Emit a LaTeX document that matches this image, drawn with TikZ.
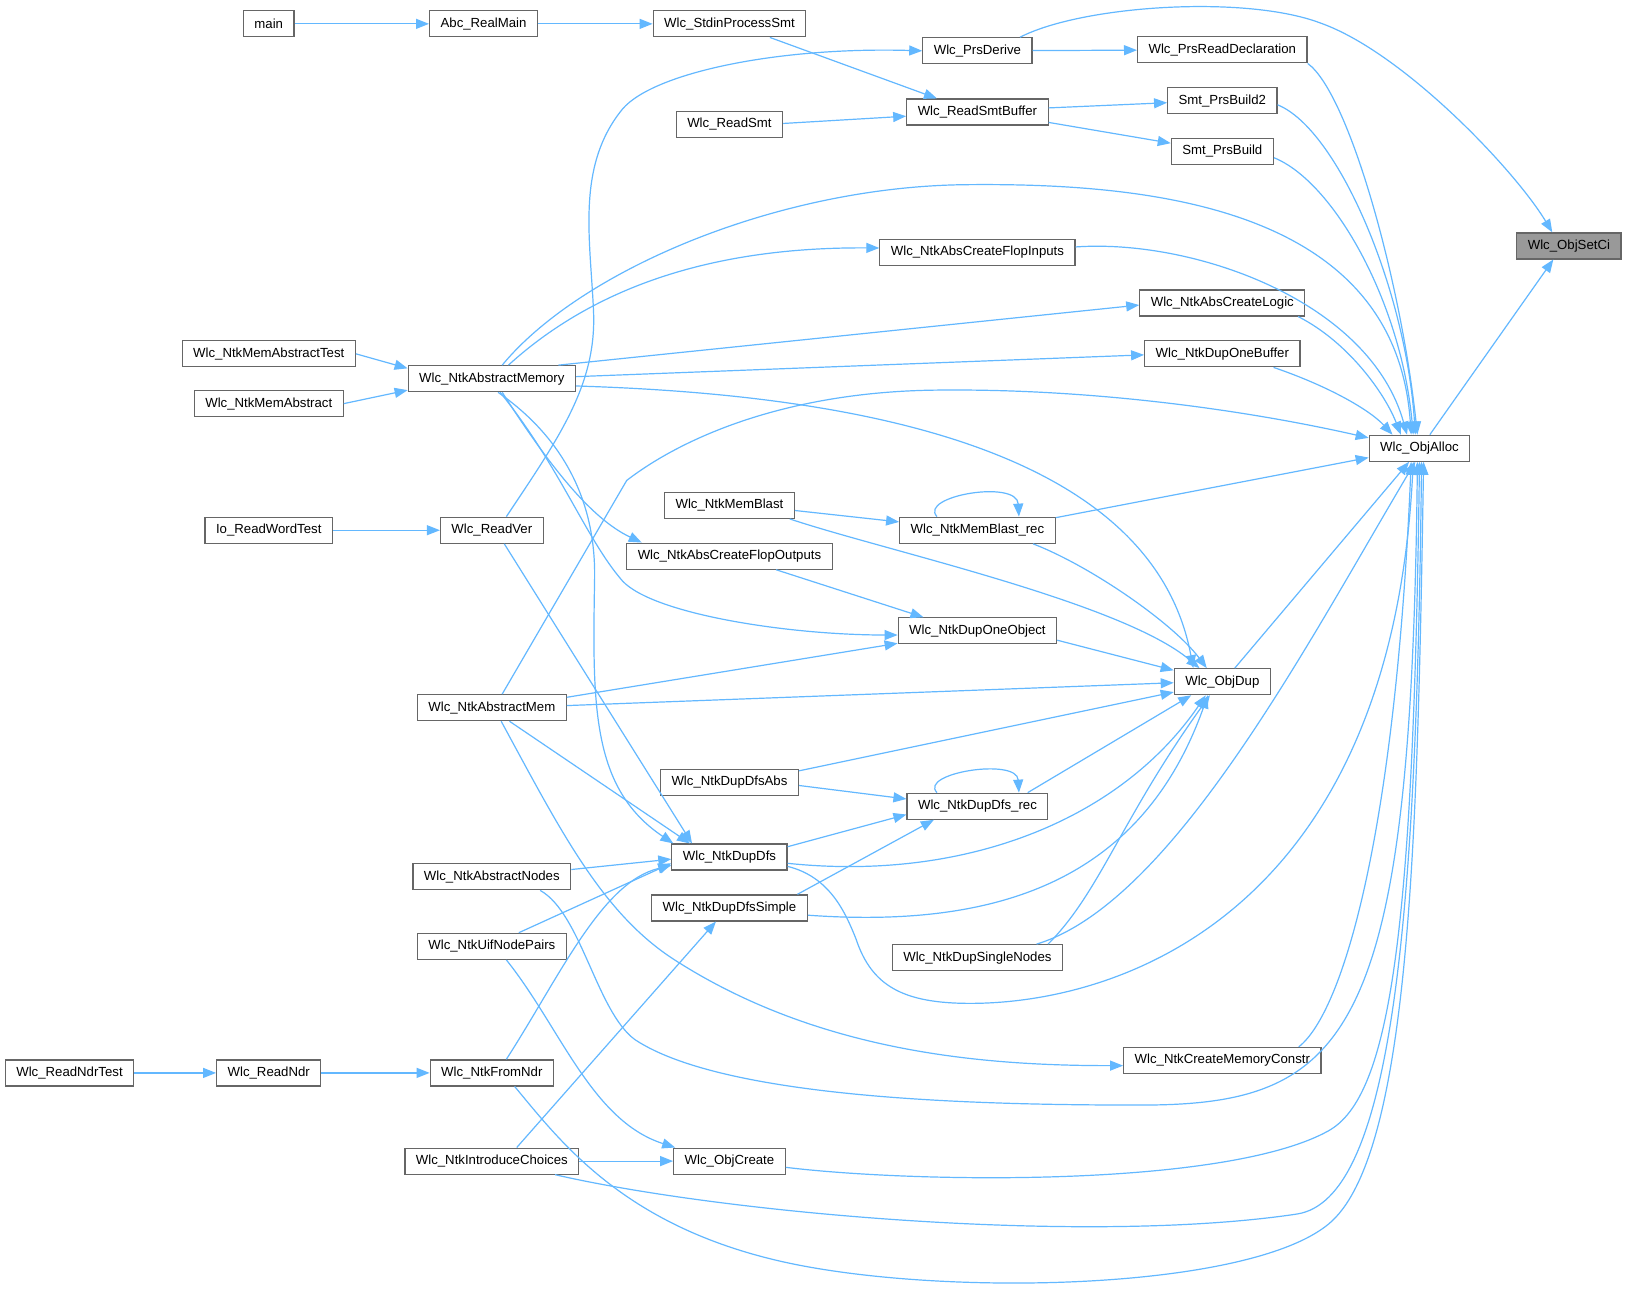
\documentclass[tikz,border=0pt]{standalone}
\usepackage{fontspec}
\setmainfont{Liberation Sans}
\usetikzlibrary{arrows.meta,calc}
\definecolor{edgeblue}{HTML}{63B8FF}
\definecolor{boxgray}{HTML}{666666}
\definecolor{focusgray}{HTML}{999999}

\begin{document}
\begin{tikzpicture}[x=0.5188pt, y=-0.5188pt, >={Triangle[length=6.5pt,width=5pt]},
    fn/.style={draw=boxgray, line width=0.6pt, fill=white, rectangle, minimum height=13pt, inner xsep=5.5pt, inner ysep=0pt, font=\fontsize{6.6}{8}\selectfont},
    focus/.style={fn, fill=focusgray},
    call/.style={->, draw=edgeblue, line width=0.6pt}]
    \fill[white] (0,0) rectangle (1568,1244);
    \useasboundingbox (0,0) rectangle (1568,1244);

    % callers, column by column
    \node[fn] (readndrtest) at (67,1034) {Wlc\_ReadNdrTest};
    \node[fn] (main) at (259,23) {main};
    \node[fn] (memabstest) at (259,341) {Wlc\_NtkMemAbstractTest};
    \node[fn] (memabs) at (259,389) {Wlc\_NtkMemAbstract};
    \node[fn] (readwordtest) at (259,511) {Io\_ReadWordTest};
    \node[fn] (readndr) at (259,1034) {Wlc\_ReadNdr};
    \node[fn] (realmain) at (466,23) {Abc\_RealMain};
    \node[fn] (absmemory) at (474,365) {Wlc\_NtkAbstractMemory};
    \node[fn] (readver) at (474,511) {Wlc\_ReadVer};
    \node[fn] (absmem) at (474,682) {Wlc\_NtkAbstractMem};
    \node[fn] (absnodes) at (474,845) {Wlc\_NtkAbstractNodes};
    \node[fn] (uifpairs) at (474,912) {Wlc\_NtkUifNodePairs};
    \node[fn] (fromndr) at (474,1034) {Wlc\_NtkFromNdr};
    \node[fn] (introchoices) at (474,1119) {Wlc\_NtkIntroduceChoices};
    \node[fn] (stdin) at (703,23) {Wlc\_StdinProcessSmt};
    \node[fn] (readsmt) at (703,120) {Wlc\_ReadSmt};
    \node[fn] (memblast) at (703,487) {Wlc\_NtkMemBlast};
    \node[fn] (flopout) at (703,536) {Wlc\_NtkAbsCreateFlopOutputs};
    \node[fn] (dupdfsabs) at (703,754) {Wlc\_NtkDupDfsAbs};
    \node[fn] (dupdfs) at (703,826) {Wlc\_NtkDupDfs};
    \node[fn] (dupdfssimple) at (703,875) {Wlc\_NtkDupDfsSimple};
    \node[fn] (objcreate) at (703,1119) {Wlc\_ObjCreate};
    \node[fn] (prsderive) at (942,49) {Wlc\_PrsDerive};
    \node[fn] (smtbuf) at (942,108) {Wlc\_ReadSmtBuffer};
    \node[fn] (flopin) at (942,243) {Wlc\_NtkAbsCreateFlopInputs};
    \node[fn] (memblastrec) at (942,511) {Wlc\_NtkMemBlast\_rec};
    \node[fn] (duponeobj) at (942,608) {Wlc\_NtkDupOneObject};
    \node[fn] (dupdfsrec) at (942,777) {Wlc\_NtkDupDfs\_rec};
    \node[fn] (singlenodes) at (942,923) {Wlc\_NtkDupSingleNodes};
    \node[fn] (prsreaddecl) at (1178,48) {Wlc\_PrsReadDeclaration};
    \node[fn] (prsbuild2) at (1178,97) {Smt\_PrsBuild2};
    \node[fn] (prsbuild) at (1178,146) {Smt\_PrsBuild};
    \node[fn] (abslogic) at (1178,292) {Wlc\_NtkAbsCreateLogic};
    \node[fn] (dupbuf) at (1178,341) {Wlc\_NtkDupOneBuffer};
    \node[fn] (dup) at (1178,657) {Wlc\_ObjDup};
    \node[fn] (memconstr) at (1178,1022) {Wlc\_NtkCreateMemoryConstr};
    \node[fn] (alloc) at (1368,432) {Wlc\_ObjAlloc};
    \node[focus] (setci) at (1512,237) {Wlc\_ObjSetCi};

    % top rows
    \draw[call] (main) -- (realmain);
    \draw[call] (realmain) -- (stdin);
    \draw[call] ($(stdin.south)+(39,0)$) -- ($(smtbuf.north)+(-39,0)$);
    \draw[call] ($(readsmt.east)+(0,-1)$) -- ($(smtbuf.west)+(0,4)$);
    \draw[call] ($(smtbuf.east)+(0,-4)$) -- ($(prsbuild2.west)+(0,2)$);
    \draw[call] ($(smtbuf.east)+(0,10)$) -- ($(prsbuild.west)+(0,-8)$);
    \draw[call] (prsderive) -- (prsreaddecl);
    \draw[call] ($(readver.north)+(14,0)$) .. controls (540,420) and (575,370) .. (572,300)
        .. controls (569,230) and (555,160) .. (600,105) .. controls (630,70) and (750,45) .. (prsderive.west);
    \draw[call] ($(prsderive.north)+(41,0)$) .. controls (1043,5) and (1200,-5) .. (1272,22)
        .. controls (1352,50) and (1460,164) .. ($(setci.north)+(-16,0)$);
    \draw[call] ($(alloc.north)+(10,0)$) -- ($(setci.south)+(-15,0)$);

    % into Wlc_ObjAlloc from above
    \draw[call] (prsreaddecl.south east) .. controls (1300,90) and (1350,270) .. ($(alloc.north)+(-2,0)$);
    \draw[call] ($(prsbuild2.east)+(0,4)$) .. controls (1290,125) and (1355,280) .. ($(alloc.north)+(-4,0)$);
    \draw[call] ($(prsbuild.east)+(0,6)$) .. controls (1285,175) and (1350,290) .. ($(alloc.north)+(-6,0)$);
    \draw[call] ($(flopin.east)+(0,-5)$) .. controls (1150,230) and (1320,290) .. ($(alloc.north)+(-12,0)$);
    \draw[call] ($(abslogic.south east)+(-7,0)$) .. controls (1300,330) and (1335,380) .. ($(alloc.north)+(-18,0)$);
    \draw[call] ($(dupbuf.south east)+(-26,0)$) .. controls (1280,372) and (1320,395) .. ($(alloc.north)+(-26,0)$);
    \draw[call] ($(absmemory.north)+(10,0)$) .. controls (560,260) and (750,180) .. (930,178)
        .. controls (1110,176) and (1345,200) .. ($(alloc.north)+(-8,0)$);
    \draw[call] ($(absmem.north)+(10,0)$) -- (604,463) .. controls (660,420) and (760,378) .. (900,376)
        .. controls (1050,374) and (1200,395) .. ($(alloc.west)+(0,-10)$);
    \draw[call] ($(memblastrec.north east)+(0,1)$) -- ($(alloc.west)+(0,9)$);

    % Wlc_NtkAbstractMemory
    \draw[call] (memabstest.east) -- ($(absmemory.west)+(0,-10)$);
    \draw[call] (memabs.east) -- ($(absmemory.west)+(0,11)$);
    \draw[call] ($(absmemory.north)+(16,0)$) .. controls (580,270) and (700,238) .. ($(flopin.west)+(0,-4)$);
    \draw[call] ($(absmemory.north east)+(-17,0)$) -- ($(abslogic.west)+(0,2)$);
    \draw[call] ($(absmemory.east)+(0,-2)$) -- ($(dupbuf.west)+(0,1)$);
    \draw[call] ($(absmemory.east)+(0,7)$) .. controls (820,380) and (1110,430) .. ($(dup.north)+(-28,0)$);
    \draw[call] ($(absmemory.south)+(10,0)$) .. controls (530,450) and (570,500) .. ($(flopout.north west)+(15,0)$);
    \draw[call] ($(absmemory.south)+(8,0)$) .. controls (540,450) and (565,520) .. (600,560)
        .. controls (630,592) and (760,612) .. ($(duponeobj.west)+(0,4)$);
    \draw[call] ($(absmemory.south)+(6,0)$) .. controls (540,420) and (575,480) .. (573,560)
        .. controls (571,680) and (570,760) .. ($(dupdfs.north west)+(2,0)$);
    \draw[call] (readwordtest) -- (readver);

    % Wlc_NtkMemBlast and Wlc_ObjDup
    \draw[call] ($(memblast.east)+(0,5)$) -- ($(memblastrec.west)+(0,-8)$);
    \draw[call] ($(memblastrec.north)+(-39,0)$) .. controls (885,478) and (980,462) .. ($(memblastrec.north)+(40,0)$);
    \draw[call] ($(memblast.south east)+(-5,0)$) .. controls (850,530) and (1080,580) .. ($(dup.north)+(-22,0)$);
    \draw[call] ($(memblastrec.south east)+(-22,0)$) .. controls (1050,545) and (1130,600) .. ($(dup.north)+(-15,0)$);
    \draw[call] ($(flopout.south)+(45,0)$) -- ($(duponeobj.north)+(-52,0)$);
    \draw[call] ($(absmem.east)+(0,-10)$) -- ($(duponeobj.west)+(0,12)$);
    \draw[call] ($(duponeobj.east)+(0,9)$) -- ($(dup.west)+(0,-11)$);
    \draw[call] ($(absmem.east)+(0,-2)$) -- ($(dup.west)+(0,1)$);
    \draw[call] ($(dupdfsabs.north east)+(0,2)$) -- ($(dup.west)+(0,10)$);
    \draw[call] ($(dupdfsabs.east)+(0,3)$) -- ($(dupdfsrec.west)+(0,-7)$);
    \draw[call] ($(dupdfsrec.north east)+(-20,0)$) -- ($(dup.south)+(-30,0)$);
    \draw[call] ($(dupdfsrec.north)+(-39,0)$) .. controls (885,745) and (980,730) .. ($(dupdfsrec.north)+(40,0)$);
    \draw[call] ($(dupdfs.east)+(0,-10)$) -- ($(dupdfsrec.west)+(0,8)$);
    \draw[call] ($(dupdfs.east)+(0,6)$) .. controls (930,850) and (1080,790) .. ($(dup.south)+(-16,0)$);
    \draw[call] ($(dupdfssimple.north east)+(-10,0)$) -- ($(dupdfsrec.south)+(-42,0)$);
    \draw[call] ($(dupdfssimple.east)+(0,7)$) .. controls (960,895) and (1100,850) .. ($(dup.south)+(-14,0)$);
    \draw[call] ($(singlenodes.north)+(68,0)$) .. controls (1060,860) and (1080,790) .. ($(dup.south)+(-12,0)$);
    \draw[call] ($(dup.north)+(12,0)$) -- ($(alloc.south)+(-10,0)$);

    % into Wlc_NtkDupDfs
    \draw[call] ($(absmem.south)+(17,0)$) -- ($(dupdfs.north west)+(18,0)$);
    \draw[call] ($(readver.south)+(12,0)$) -- ($(dupdfs.north west)+(20,0)$);
    \draw[call] ($(absnodes.east)+(0,-7)$) -- ($(dupdfs.west)+(0,2)$);
    \draw[call] ($(uifpairs.north)+(26,0)$) -- ($(dupdfs.west)+(0,6)$);
    \draw[call] ($(fromndr.north)+(14,0)$) .. controls (540,940) and (580,850) .. ($(dupdfs.west)+(0,8)$);

    % lower part
    \draw[call] ($(absmem.south)+(9,0)$) .. controls (540,800) and (580,880) .. (650,925)
        .. controls (790,1015) and (950,1027) .. ($(memconstr.west)+(0,5)$);
    \draw[call] ($(dupdfs.east)+(0,9)$) .. controls (800,845) and (815,880) .. (825,905)
        .. controls (840,950) and (870,967) .. (935,967) .. controls (1080,967) and (1340,880) .. ($(alloc.south)+(-6,0)$);
    \draw[call] ($(singlenodes.north)+(57,0)$) .. controls (1130,870) and (1260,620) .. ($(alloc.south)+(-4,0)$);
    \draw[call] ($(absnodes.south east)+(-30,0)$) .. controls (560,880) and (575,975) .. (612,1002)
        .. controls (700,1060) and (950,1065) .. (1099,1065) .. controls (1300,1065) and (1360,1000) .. ($(alloc.south)+(-2,0)$);
    \draw[call] ($(memconstr.north east)+(-22,0)$) .. controls (1295,975) and (1345,800) .. ($(alloc.south)+(-8,0)$);
    \draw[call] ($(objcreate.east)+(0,6)$) .. controls (880,1140) and (1180,1145) .. (1280,1090)
        .. controls (1340,1057) and (1362,900) .. (alloc.south);
    \draw[call] ($(introchoices.south)+(61,0)$) .. controls (700,1170) and (1050,1200) .. (1250,1170)
        .. controls (1340,1156) and (1365,900) .. ($(alloc.south)+(2,0)$);
    \draw[call] ($(fromndr.south)+(22,0)$) .. controls (540,1100) and (600,1180) .. (750,1215)
        .. controls (900,1250) and (1200,1245) .. (1280,1180) .. controls (1360,1115) and (1366,800) .. ($(alloc.south)+(4,0)$);
    \draw[call] ($(introchoices.north)+(24,0)$) -- ($(dupdfssimple.south)+(-13,0)$);
    \draw[call] ($(uifpairs.south)+(14,0)$) .. controls (540,990) and (570,1080) .. ($(objcreate.north west)+(2,0)$);
    \draw[call] (introchoices) -- (objcreate);
    \draw[call] (readndrtest) -- (readndr);
    \draw[call] (readndr) -- (fromndr);
\end{tikzpicture}
\end{document}
